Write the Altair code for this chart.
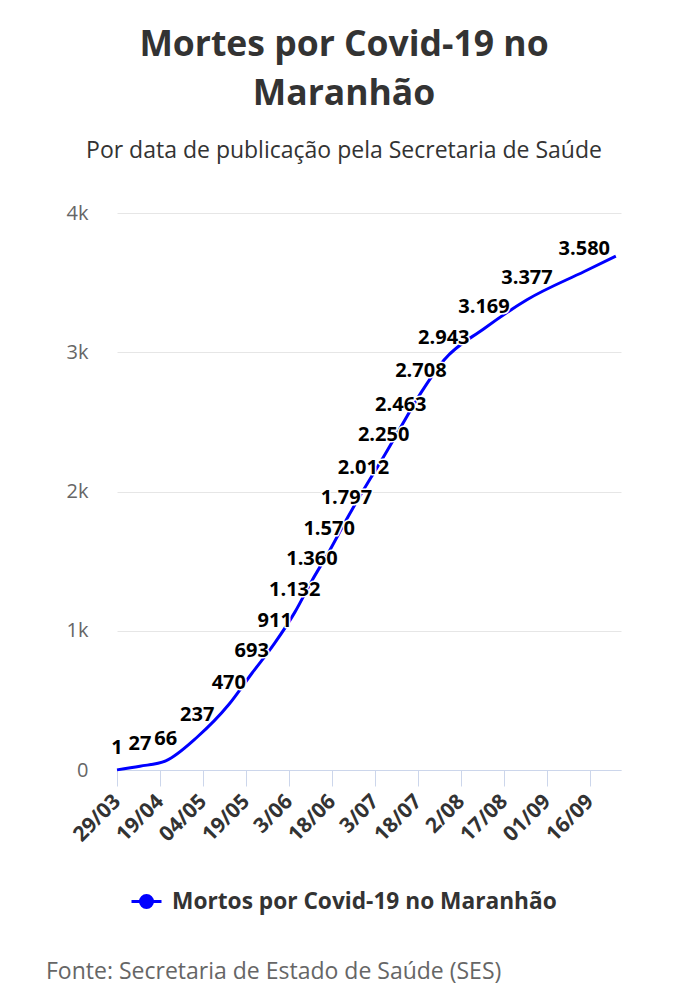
import altair as alt
import pandas as pd

# ---- data ----
tick_labels = ["29/03", "19/04", "04/05", "19/05", "3/06", "18/06",
               "3/07", "18/07", "2/08", "17/08", "01/09", "16/09"]
day_index = [0, 8, 17, 28, 39, 47, 55, 62, 68, 74, 80, 86, 93, 99, 106, 114, 128, 143, 163, 174]
deaths = [1, 27, 66, 237, 470, 693, 911, 1132, 1360, 1570, 1797, 2012, 2250, 2463, 2708,
          2943, 3169, 3377, 3580, 3690]
label_values = [1, 27, 66, 237, 470, 693, 911, 1132, 1360, 1570, 1797, 2012, 2250, 2463,
                2708, 2943, 3169, 3377, 3580]
series_name = "Mortos por Covid-19 no Maranhão"
source_text = "Fonte: Secretaria de Estado de Saúde (SES)"
y_ticks = [0, 1000, 2000, 3000, 4000]

df = pd.DataFrame({"t": day_index, "v": deaths, "serie": series_name})
lab = df[df["v"].isin(label_values)].copy()

tick_vals = [15 * i for i in range(len(tick_labels))]
label_expr = "[" + ",".join("'%s'" % s for s in tick_labels) + "][round(datum.value/15)]"

W, H = 504, 557
FONT = "Open Sans"

x_enc = alt.X(
    "t:Q",
    title=None,
    scale=alt.Scale(domain=[0, 175.8], nice=False, zero=False),
    axis=alt.Axis(
        values=tick_vals, labelExpr=label_expr, labelAngle=-45, labelAlign="right",
        labelBaseline="middle", labelFont=FONT, labelFontSize=21, labelFontWeight="bold",
        labelColor="#333333", labelPadding=12, tickSize=16, tickColor="#ccd6eb",
        domainColor="#ccd6eb", grid=False, labelOverlap=False, labelBound=False,
        labelFlush=False,
    ),
)
y_enc = alt.Y(
    "v:Q",
    title=None,
    scale=alt.Scale(domain=[0, 4000], nice=False),
    axis=alt.Axis(
        values=y_ticks,
        labelExpr="datum.value == 0 ? '0' : format(datum.value / 1000, 'd') + 'k'",
        labelFont=FONT, labelFontSize=20, labelColor="#666666",
        labelPadding=29, domain=False, ticks=False, gridColor="#e6e6e6",
    ),
)

legend_path = "M-1,0L1,0M-0.4,0A0.4,0.4,0,1,1,0.4,0A0.4,0.4,0,1,1,-0.4,0Z"

line = alt.Chart(df).mark_line(strokeWidth=3, interpolate="monotone").encode(
    x=x_enc,
    y=y_enc,
    color=alt.Color(
        "serie:N",
        scale=alt.Scale(range=["#0000ff"]),
        legend=alt.Legend(
            title=None, orient="none", legendX=13, legendY=672, symbolType=legend_path,
            symbolSize=900, symbolStrokeWidth=3, symbolFillColor="#0000ff",
            labelFont=FONT, labelFontSize=22.7, labelFontWeight="bold", labelColor="#333333",
            labelOffset=9, labelLimit=0, padding=0,
        ),
    ),
)

halo = alt.Chart(lab).transform_calculate(
    lbl="replace(format(datum.v, ','), ',', '.')"
).mark_text(
    font=FONT, fontSize=20, fontWeight="bold", dy=-16, baseline="alphabetic",
    fill="white", stroke="white", strokeWidth=3, strokeJoin="round",
).encode(x="t:Q", y="v:Q", text="lbl:N")

labels = alt.Chart(lab).transform_calculate(
    lbl="replace(format(datum.v, ','), ',', '.')"
).mark_text(
    font=FONT, fontSize=20, fontWeight="bold", dy=-16, baseline="alphabetic", color="#000000",
).encode(x="t:Q", y="v:Q", text="lbl:N")

source = alt.Chart(pd.DataFrame({"s": [source_text]})).mark_text(
    font=FONT, fontSize=23, color="#666666", align="left", baseline="alphabetic",
).encode(x=alt.value(-71), y=alt.value(766), text="s:N")

chart = alt.layer(line, halo, labels, source).properties(
    width=W,
    height=H,
    autosize=alt.AutoSizeParams(type="none"),
    padding={"left": 109, "top": 205, "right": 57, "bottom": 222},
    title=alt.TitleParams(
        text=["Mortes por Covid-19 no", "Maranhão"],
        subtitle="Por data de publicação pela Secretaria de Saúde",
        font=FONT, fontSize=35.5, fontWeight="bold", color="#333333", lineHeight=49,
        subtitleFont=FONT, subtitleFontSize=23, subtitleColor="#333333",
        subtitlePadding=28, anchor="middle", dx=-25, offset=40,
    ),
).configure(font=FONT).configure_view(stroke="transparent", strokeWidth=0)

chart.save("out.html", embed_options={"renderer": "svg", "actions": False})
